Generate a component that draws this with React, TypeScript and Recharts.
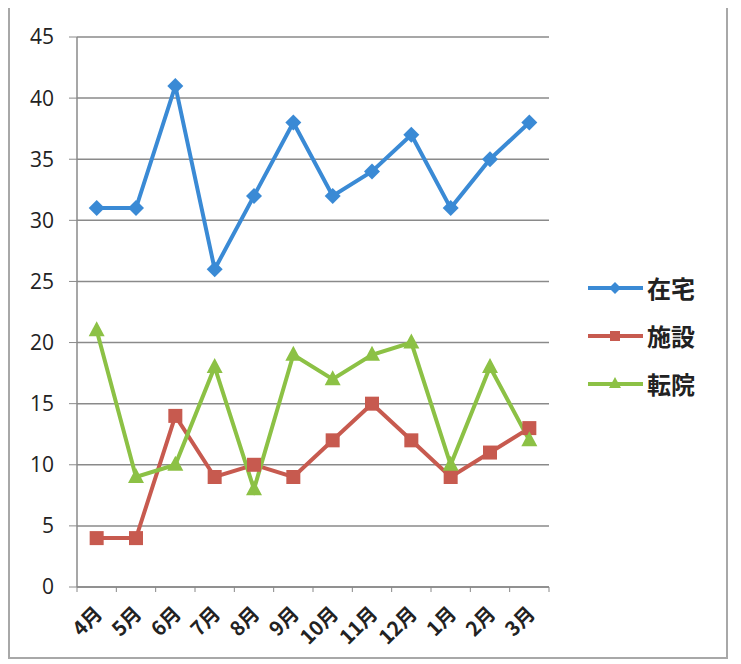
import React from 'react';
import { LineChart, Line, XAxis, YAxis, CartesianGrid } from 'recharts';

const months = ['4月', '5月', '6月', '7月', '8月', '9月', '10月', '11月', '12月', '1月', '2月', '3月'];
const zaitaku = [31, 31, 41, 26, 32, 38, 32, 34, 37, 31, 35, 38];
const shisetsu = [4, 4, 14, 9, 10, 9, 12, 15, 12, 9, 11, 13];
const tenin = [21, 9, 10, 18, 8, 19, 17, 19, 20, 10, 18, 12];
const yTicks = [0, 5, 10, 15, 20, 25, 30, 35, 40, 45];

const BLUE = '#3a8ad5';
const RED = '#c75a4f';
const GREEN = '#8cc145';

const series = [
  { key: 'zaitaku', name: '在宅', color: BLUE, shape: 'diamond' },
  { key: 'shisetsu', name: '施設', color: RED, shape: 'square' },
  { key: 'tenin', name: '転院', color: GREEN, shape: 'triangle' },
];

const data = months.map((m, i) => ({
  month: m,
  zaitaku: zaitaku[i],
  shisetsu: shisetsu[i],
  tenin: tenin[i],
}));

const Marker = ({ cx, cy, shape, color, r = 8 }: any) => {
  if (cx == null || cy == null) return null;
  if (shape === 'diamond') {
    return <polygon points={`${cx},${cy - r} ${cx + r},${cy} ${cx},${cy + r} ${cx - r},${cy}`} fill={color} />;
  }
  if (shape === 'square') {
    const s = r - 1;
    return <rect x={cx - s} y={cy - s} width={s * 2} height={s * 2} fill={color} />;
  }
  return <polygon points={`${cx},${cy - r - 1} ${cx + r},${cy + r - 2} ${cx - r},${cy + r - 2}`} fill={color} />;
};

const half = 472 / 24;

const MonthTick = ({ x, y, payload, index }: any) => (
  <g>
    <line x1={x - half} y1={y - 8} x2={x - half} y2={y - 3} stroke="#888" />
    {index === months.length - 1 && (
      <line x1={x + half} y1={y - 8} x2={x + half} y2={y - 3} stroke="#888" />
    )}
    <text
      x={x + 7}
      y={y + 20}
      textAnchor="end"
      transform={`rotate(-45, ${x + 7}, ${y + 20})`}
      fontSize={20}
      fontWeight="bold"
      fill="#222"
      fontFamily="'Noto Sans CJK JP', 'Noto Sans', sans-serif"
    >
      {payload.value}
    </text>
  </g>
);

const App = () => (
  <div
    style={{
      position: 'relative',
      width: 720,
      height: 654,
      marginTop: -3,
      border: '2px solid #a8a8a8',
      boxSizing: 'border-box',
      background: '#fff',
    }}
  >
    <LineChart width={716} height={650} data={data} margin={{ top: 30, right: 177, left: 0, bottom: 0 }}>
      <CartesianGrid vertical={false} stroke="#8a8a8a" strokeWidth={1.5} />
      <XAxis
        dataKey="month"
        height={70}
        padding={{ left: half, right: half }}
        tickLine={false}
        axisLine={{ stroke: '#8a8a8a', strokeWidth: 1.5 }}
        tick={<MonthTick />}
        interval={0}
      />
      <YAxis
        width={67}
        domain={[0, 45]}
        ticks={yTicks}
        tickSize={8}
        tickMargin={15}
        axisLine={{ stroke: '#8a8a8a', strokeWidth: 1.5 }}
        tickLine={{ stroke: '#8a8a8a' }}
        tick={{ fontSize: 21, fill: '#222', fontFamily: "'Open Sans', 'Noto Sans', sans-serif" }}
      />
      {series.map((s) => (
        <Line
          key={s.key}
          dataKey={s.key}
          name={s.name}
          type="linear"
          stroke={s.color}
          strokeWidth={4}
          dot={(p: any) => <Marker key={p.index} cx={p.cx} cy={p.cy} shape={s.shape} color={s.color} />}
          activeDot={false}
          isAnimationActive={false}
        />
      ))}
    </LineChart>
    <div style={{ position: 'absolute', left: 577, top: 257 }}>
      {series.map((s) => (
        <div key={s.key} style={{ display: 'flex', alignItems: 'center', height: 48 }}>
          <svg width={58} height={20}>
            <line x1={1} y1={10} x2={56} y2={10} stroke={s.color} strokeWidth={4} />
            <Marker cx={28} cy={10} shape={s.shape} color={s.color} r={6} />
          </svg>
          <span
            style={{
              fontSize: 24,
              fontWeight: 'bold',
              color: '#222',
              fontFamily: "'Noto Sans CJK JP', sans-serif",
              marginLeft: 2,
              lineHeight: 1,
            }}
          >
            {s.name}
          </span>
        </div>
      ))}
    </div>
  </div>
);

export default App;
